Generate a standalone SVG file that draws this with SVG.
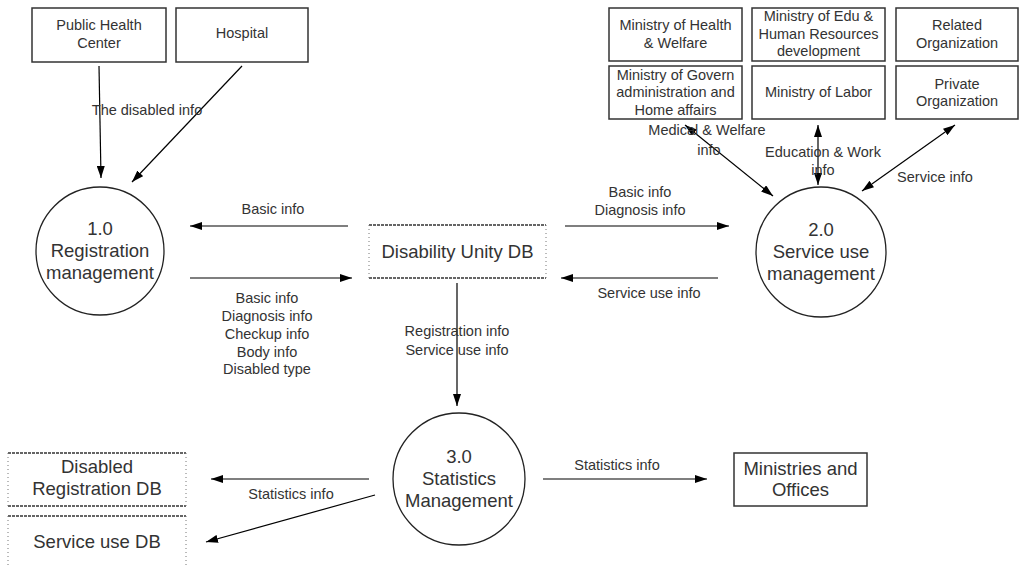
<svg xmlns="http://www.w3.org/2000/svg" width="1020" height="568" viewBox="0 0 1020 568">
  <defs>
    <marker id="arrow" viewBox="0 0 12 8" refX="12" refY="4" markerWidth="12" markerHeight="8" markerUnits="userSpaceOnUse" orient="auto-start-reverse">
      <path d="M0,0 L12,4 L0,8 Z" fill="#000"/>
    </marker>
    <style>
      text { font-family: "Liberation Sans", Arial, sans-serif; fill: #333; text-anchor: middle; }
      .lbl { font-size: 14.5px; }
      .big { font-size: 18.5px; }
      .ent { fill: #fff; stroke: #333; stroke-width: 1.5; }
      .proc { fill: #fff; stroke: #222; stroke-width: 1.3; }
      .dbh { stroke: #333; stroke-width: 1.6; stroke-dasharray: 3 1; fill: none; }
      .dbv { stroke: #777; stroke-width: 1; stroke-dasharray: 1 3; fill: none; }
      .flow { stroke: #000; stroke-width: 1.2; fill: none; marker-end: url(#arrow); }
      .both { marker-start: url(#arrow); }
    </style>
  </defs>
  <rect width="1020" height="568" fill="#fff"/>

  <!-- external entities -->
  <g id="public-health-center">
    <rect class="ent" x="32" y="8" width="134" height="54"/>
    <text class="lbl" x="99" y="30">Public Health</text>
    <text class="lbl" x="99" y="48">Center</text>
  </g>
  <g id="hospital">
    <rect class="ent" x="176" y="8" width="132" height="54"/>
    <text class="lbl" x="242" y="38">Hospital</text>
  </g>
  <g id="ministry-health">
    <rect class="ent" x="609" y="8" width="133" height="53"/>
    <text class="lbl" x="675.5" y="30">Ministry of Health</text>
    <text class="lbl" x="675.5" y="48">&amp; Welfare</text>
  </g>
  <g id="ministry-edu">
    <rect class="ent" x="752" y="8" width="133" height="53"/>
    <text class="lbl" x="818.5" y="21">Ministry of Edu &amp;</text>
    <text class="lbl" x="818.5" y="38.5">Human Resources</text>
    <text class="lbl" x="818.5" y="56">development</text>
  </g>
  <g id="related-org">
    <rect class="ent" x="896" y="8" width="122" height="53"/>
    <text class="lbl" x="957" y="30">Related</text>
    <text class="lbl" x="957" y="48">Organization</text>
  </g>
  <g id="ministry-govern">
    <rect class="ent" x="609" y="66" width="133" height="53"/>
    <text class="lbl" x="675.5" y="79.5">Ministry of Govern</text>
    <text class="lbl" x="675.5" y="97">administration and</text>
    <text class="lbl" x="675.5" y="114.5">Home affairs</text>
  </g>
  <g id="ministry-labor">
    <rect class="ent" x="752" y="66" width="133" height="53"/>
    <text class="lbl" x="818.5" y="97">Ministry of Labor</text>
  </g>
  <g id="private-org">
    <rect class="ent" x="896" y="66" width="122" height="53"/>
    <text class="lbl" x="957" y="88.5">Private</text>
    <text class="lbl" x="957" y="106">Organization</text>
  </g>
  <g id="ministries-offices">
    <rect class="ent" x="734" y="453" width="133" height="53"/>
    <text class="big" x="800.5" y="475">Ministries and</text>
    <text class="big" x="800.5" y="496">Offices</text>
  </g>

  <!-- processes -->
  <g id="proc-registration">
    <circle class="proc" cx="100" cy="251" r="64"/>
    <text class="big" x="100" y="235">1.0</text>
    <text class="big" x="100" y="257">Registration</text>
    <text class="big" x="100" y="279">management</text>
  </g>
  <g id="proc-service-use">
    <circle class="proc" cx="821" cy="252" r="65"/>
    <text class="big" x="821" y="236">2.0</text>
    <text class="big" x="821" y="258">Service use</text>
    <text class="big" x="821" y="280">management</text>
  </g>
  <g id="proc-statistics">
    <circle class="proc" cx="459" cy="479" r="66"/>
    <text class="big" x="459" y="463">3.0</text>
    <text class="big" x="459" y="485">Statistics</text>
    <text class="big" x="459" y="507">Management</text>
  </g>

  <!-- data stores -->
  <g id="db-unity">
    <path class="dbh" d="M369,225 H546 M369,278 H546"/>
    <path class="dbv" d="M369,225 V278 M546,225 V278"/>
    <text class="big" x="457.5" y="258">Disability Unity DB</text>
  </g>
  <g id="db-registration">
    <path class="dbh" d="M8,453 H186 M8,506 H186"/>
    <path class="dbv" d="M8,453 V506 M186,453 V506"/>
    <text class="big" x="97" y="473">Disabled</text>
    <text class="big" x="97" y="495">Registration DB</text>
  </g>
  <g id="db-service-use">
    <path class="dbh" d="M8,516 H186"/>
    <path class="dbv" d="M8,516 V570 M186,516 V570"/>
    <text class="big" x="97" y="548">Service use DB</text>
  </g>

  <!-- data flows -->
  <g id="connectors">
    <path class="flow" d="M99,66 L101,178"/>
    <path class="flow" d="M242,66 L132,182"/>
    <path class="flow" d="M348,226 L190,226"/>
    <path class="flow" d="M190,278 L352,278"/>
    <path class="flow" d="M565,226 L729,226"/>
    <path class="flow" d="M718,278 L561,278"/>
    <path class="flow" d="M457,283 L457,406"/>
    <path class="flow" d="M543,479 L707,479"/>
    <path class="flow" d="M369,479 L211,479"/>
    <path class="flow" d="M375,495 L206,542"/>
    <path class="flow both" d="M685,125 L773,196"/>
    <path class="flow both" d="M818,125 L818,185"/>
    <path class="flow both" d="M955,125 L862,191"/>

    <text class="lbl" x="147" y="115">The disabled info</text>
    <text class="lbl" x="273" y="214">Basic info</text>
    <text class="lbl" x="267" y="303">Basic info</text>
    <text class="lbl" x="267" y="321">Diagnosis info</text>
    <text class="lbl" x="267" y="339">Checkup info</text>
    <text class="lbl" x="267" y="356.5">Body info</text>
    <text class="lbl" x="267" y="374">Disabled type</text>
    <text class="lbl" x="640" y="197">Basic info</text>
    <text class="lbl" x="640" y="215">Diagnosis info</text>
    <text class="lbl" x="649" y="298">Service use info</text>
    <text class="lbl" x="457" y="336">Registration info</text>
    <text class="lbl" x="457" y="355">Service use info</text>
    <text class="lbl" x="707" y="135">Medical &amp; Welfare</text>
    <text class="lbl" x="709" y="155">info</text>
    <text class="lbl" x="823" y="157">Education &amp; Work</text>
    <text class="lbl" x="823" y="175">info</text>
    <text class="lbl" x="935" y="182">Service info</text>
    <text class="lbl" x="617" y="470">Statistics info</text>
    <text class="lbl" x="291" y="499">Statistics info</text>
  </g>
</svg>
